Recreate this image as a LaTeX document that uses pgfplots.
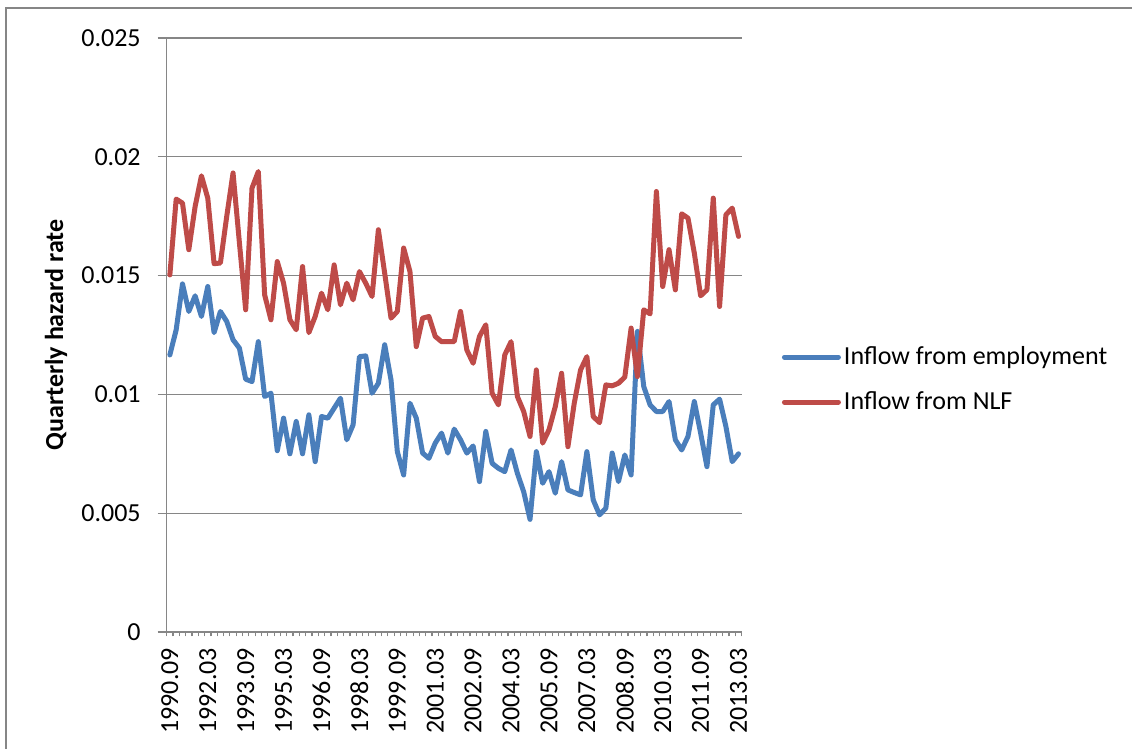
\documentclass[border=0pt]{standalone}
\usepackage{fontspec}
\setmainfont{Carlito}
\usepackage{pgfplots}
\pgfplotsset{compat=1.18}
\usepackage{pgfplotstable}
\definecolor{serblue}{HTML}{4A7EBB}
\definecolor{serred}{HTML}{BE4B48}
\definecolor{axgray}{HTML}{868686}

\pgfplotstableread{
q emp nlf
0 0.01166 0.01503
1 0.01272 0.01822
2 0.01465 0.01805
3 0.01349 0.01609
4 0.01415 0.01791
5 0.01328 0.01920
6 0.01454 0.01826
7 0.01260 0.01550
8 0.01349 0.01553
9 0.01307 0.01749
10 0.01230 0.01932
11 0.01195 0.01640
12 0.01064 0.01356
13 0.01054 0.01868
14 0.01222 0.01938
15 0.00991 0.01419
16 0.01005 0.01314
17 0.00763 0.01559
18 0.00900 0.01468
19 0.00750 0.01314
20 0.00886 0.01272
21 0.00750 0.01538
22 0.00914 0.01260
23 0.00717 0.01328
24 0.00907 0.01426
25 0.00900 0.01356
26 0.00942 0.01545
27 0.00984 0.01377
28 0.00809 0.01468
29 0.00872 0.01398
30 0.01159 0.01517
31 0.01162 0.01468
32 0.01005 0.01412
33 0.01047 0.01693
34 0.01209 0.01510
35 0.01061 0.01321
36 0.00759 0.01349
37 0.00661 0.01616
38 0.00963 0.01517
39 0.00900 0.01201
40 0.00753 0.01321
41 0.00731 0.01328
42 0.00795 0.01244
43 0.00837 0.01222
44 0.00753 0.01222
45 0.00854 0.01222
46 0.00809 0.01349
47 0.00753 0.01187
48 0.00783 0.01131
49 0.00633 0.01244
50 0.00844 0.01293
51 0.00710 0.01005
52 0.00689 0.00956
53 0.00675 0.01166
54 0.00766 0.01222
55 0.00668 0.00991
56 0.00590 0.00928
57 0.00474 0.00823
58 0.00759 0.01103
59 0.00626 0.00795
60 0.00675 0.00851
61 0.00584 0.00949
62 0.00717 0.01089
63 0.00598 0.00780
64 0.00587 0.00963
65 0.00577 0.01103
66 0.00759 0.01159
67 0.00556 0.00907
68 0.00493 0.00881
69 0.00521 0.01040
70 0.00753 0.01036
71 0.00633 0.01047
72 0.00745 0.01073
73 0.00661 0.01279
74 0.01265 0.01075
75 0.01033 0.01356
76 0.00956 0.01339
77 0.00928 0.01854
78 0.00928 0.01454
79 0.00970 0.01609
80 0.00809 0.01440
81 0.00766 0.01760
82 0.00823 0.01742
83 0.00970 0.01595
84 0.00837 0.01415
85 0.00696 0.01440
86 0.00956 0.01826
87 0.00980 0.01370
88 0.00865 0.01756
89 0.00717 0.01784
90 0.00750 0.01665
}\datatable

\begin{document}
\begin{tikzpicture}[font=\fontsize{13pt}{15pt}\selectfont]
\useasboundingbox (0,0) rectangle (566pt,374.5pt);
\draw[axgray, line width=1pt] (3pt,0) -- (3pt,370.5pt) -- (566pt,370.5pt);
\begin{axis}[
  at={(83.35pt,58.5pt)}, anchor=south west,
  scale only axis, width=287.5pt, height=297pt,
  xmin=-0.5, xmax=90.5, ymin=0, ymax=0.025,
  axis lines*=left,
  axis line style={axgray, line width=0.6pt},
  ymajorgrids, grid style={axgray, line width=0.6pt},
  tick align=outside,
  major tick length=4.5pt, minor tick length=2.2pt,
  tick style={axgray, line width=0.6pt},
  xtick={0,6,12,18,24,30,36,42,48,54,60,66,72,78,84,90},
  xticklabels={1990.09,1992.03,1993.09,1995.03,1996.09,1998.03,1999.09,2001.03,2002.09,2004.03,2005.09,2007.03,2008.09,2010.03,2011.09,2013.03},
  minor xtick={-0.5,0.5,...,90.5},
  major x tick style={draw=none},
  ytick={0,0.005,0.01,0.015,0.02,0.025},
  yticklabels={0,0.005,0.01,0.015,0.02,0.025},
  scaled y ticks=false,
  tick label style={font=\fontsize{13pt}{15pt}\selectfont, text=black},
  xticklabel style={rotate=90, anchor=east},
  yticklabel style={xshift=-5pt},
  ylabel={\bfseries Quarterly hazard rate},
  every axis y label/.style={at={(axis description cs:-0.1925,0.5)}, rotate=90, anchor=center, font=\fontsize{13pt}{15pt}\selectfont},
  legend style={at={(axis description cs:1.07,0.425)}, anchor=west, draw=none, fill=none,
    inner sep=0pt, outer sep=0pt, row sep=9pt, /tikz/column sep=0pt,
    font=\fontsize{13pt}{15pt}\selectfont, nodes={inner sep=1.5pt}},
  legend cell align=left,
  legend image code/.code={\draw[#1, line width=2.5pt, line cap=round] (0pt,0pt) -- (27pt,0pt);},
  line join=round,
]
\addplot[serblue, line width=2.5pt, line cap=round] table[x=q, y=emp] {\datatable};
\addlegendentry{Inflow from employment}
\addplot[serred, line width=2.5pt, line cap=round] table[x=q, y=nlf] {\datatable};
\addlegendentry{Inflow from NLF}
\end{axis}
\end{tikzpicture}
\end{document}
